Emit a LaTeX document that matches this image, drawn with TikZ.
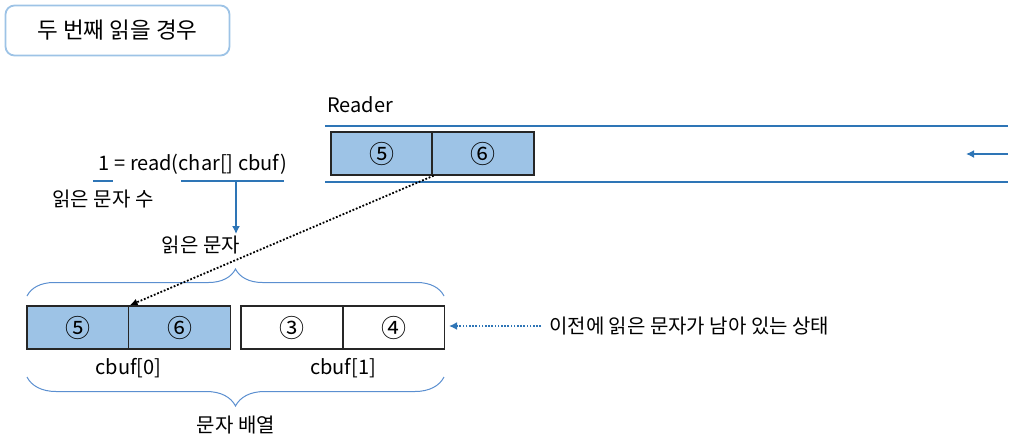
\documentclass[tikz,border=0pt]{standalone}
\usepackage{fontspec}
\setmainfont{Noto Sans CJK KR}
\usetikzlibrary{arrows.meta,decorations.pathreplacing}
\definecolor{lblue}{HTML}{9DC3E6}
\definecolor{dblue}{HTML}{2E75B6}
\definecolor{mblue}{HTML}{5B8FD0}
\definecolor{bline}{HTML}{262626}
\begin{document}
\begin{tikzpicture}[x=1pt,y=-1pt,
  txt/.style={inner sep=0pt, font=\fontsize{20}{24}\selectfont},
  cell/.style={draw=bline, line width=1.3pt, minimum width=102pt, minimum height=43pt, inner sep=0pt, font=\fontsize{25}{28}\selectfont},
  filled/.style={cell, fill=lblue},
  blueline/.style={draw=dblue, line width=2pt},
  bluearrow/.style={draw=dblue, line width=1.5pt, -{Latex[length=8pt,width=8pt]}},
  bracestyle/.style={draw=mblue, line width=1pt, decorate, decoration={brace, amplitude=#1}}
]
\useasboundingbox (0,0) rectangle (1015,440);
% title
\node[draw=lblue, line width=1.8pt, rounded corners=9pt, minimum width=224pt, minimum height=50pt, font=\fontsize{22.5}{26}\selectfont] (title) at (117.5,30.5) {두 번째 읽을 경우};
% Reader
\node[txt, anchor=west] (reader) at (327,105) {Reader};
\coordinate (tl) at (325,126); \coordinate (tr) at (1008,126);
\coordinate (bl) at (325,182); \coordinate (br) at (1008,182);
\draw[blueline] (tl) -- (tr);
\draw[blueline] (bl) -- (br);
\node[filled] (r5) at (382,153.5) {⑤};
\node[filled] (r6) at (483,153.5) {⑥};
\coordinate (ain) at (1008,154); \coordinate (aout) at (966,154);
\draw[bluearrow] (ain) -- (aout);
% read call
\node[txt] (call) at (193,164) {1 = read(char[] cbuf)};
\coordinate (u1a) at (93,181); \coordinate (u1b) at (113,181);
\coordinate (u2a) at (181,181); \coordinate (u2b) at (284,181);
\coordinate (u2m) at (236,181); \coordinate (u2d) at (236,234);
\draw[blueline, line width=1.5pt] (u1a) -- (u1b);
\draw[blueline, line width=1.5pt] (u2a) -- (u2b);
\draw[bluearrow] (u2m) -- (u2d);
\node[txt] (cnt) at (103,199) {읽은 문자 수};
\node[txt] (rd) at (201,245) {읽은 문자};
% buffer
\node[filled] (c5) at (78,327.5) {⑤};
\node[filled] (c6) at (179.5,327.5) {⑥};
\node[cell] (c3) at (292,327.5) {③};
\node[cell] (c4) at (393.5,327.5) {④};
\node[txt] (lb0) at (128.5,368) {cbuf[0]};
\node[txt] (lb1) at (343,368) {cbuf[1]};
\coordinate (tb1) at (27,296); \coordinate (tb2) at (444,296);
\draw[bracestyle=27pt] (tb1) -- (tb2);
\coordinate (bb1) at (444,377); \coordinate (bb2) at (27,377);
\draw[bracestyle=29pt] (bb1) -- (bb2);
\node[txt] (arr) at (236,425) {문자 배열};
% dotted arrows
\draw[line width=1.8pt, dash pattern=on 1.8pt off 1.8pt, -{Latex[length=8pt,width=7pt]}] (r5.south east) -- (c5.north east);
\coordinate (pa) at (541,326); \coordinate (pb) at (449,326);
\draw[draw=dblue, line width=1.6pt, dash pattern=on 1.6pt off 1.6pt, -{Latex[length=8pt,width=8pt]}] (pa) -- (pb);
\node[txt, anchor=west] (prev) at (549,326) {이전에 읽은 문자가 남아 있는 상태};
\end{tikzpicture}
\end{document}
